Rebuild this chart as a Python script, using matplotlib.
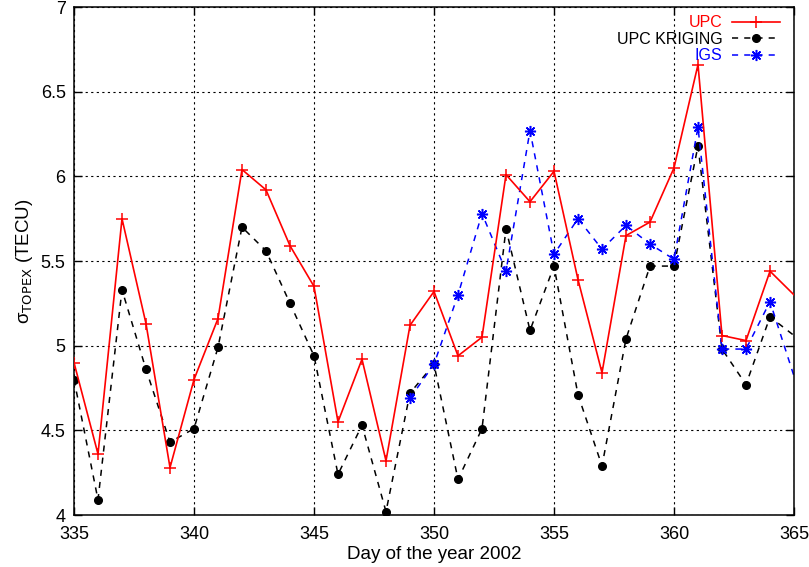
import matplotlib
matplotlib.use("Agg")
import matplotlib.pyplot as plt

plt.rcParams['font.family'] = ['Liberation Sans', 'DejaVu Sans']

days = list(range(335, 366))
upc = [4.90, 4.36, 5.75, 5.13, 4.28, 4.80, 5.16, 6.04, 5.92, 5.59, 5.35, 4.55,
       4.92, 4.32, 5.12, 5.32, 4.94, 5.05, 6.01, 5.85, 6.03, 5.39, 4.84, 5.65,
       5.73, 6.05, 6.66, 5.06, 5.03, 5.44, 5.30]
kriging = [4.80, 4.09, 5.33, 4.86, 4.43, 4.51, 4.99, 5.70, 5.56, 5.25, 4.94, 4.24,
           4.53, 4.02, 4.72, 4.89, 4.21, 4.51, 5.69, 5.09, 5.47, 4.71, 4.29, 5.04,
           5.47, 5.47, 6.18, 4.98, 4.77, 5.17, 5.06]
igs_days = list(range(349, 366))
igs = [4.69, 4.89, 5.30, 5.78, 5.44, 6.27, 5.54, 5.75, 5.57, 5.71, 5.60, 5.51,
       6.29, 4.98, 4.98, 5.26, 4.82]

xticks = [335, 340, 345, 350, 355, 360, 365]
yticks = [4, 4.5, 5, 5.5, 6, 6.5, 7]
ytick_labels = ['4', '4.5', '5', '5.5', '6', '6.5', '7']

fig = plt.figure(figsize=(8.09, 5.67), dpi=100)
ax = fig.add_axes([74/809, 52/567, 720/809, 508/567])

ax.plot(days, upc, color='#ff0000', lw=1.2, marker='+', ms=8, mew=1.1,
        markevery=list(range(len(days) - 1)), label='UPC', zorder=3)
ax.plot(days, kriging, color='black', lw=1.1, dashes=(4, 4), marker='o', ms=5.5,
        markevery=list(range(len(days) - 1)), label='UPC KRIGING', zorder=2)
ax.plot(igs_days, igs, color='#0000ff', lw=1.1, dashes=(4, 4), marker=(8, 2, 0),
        ms=8, mew=1.1, markevery=list(range(len(igs_days) - 1)), label='IGS', zorder=2)

ax.set_xlim(335, 365)
ax.set_ylim(4, 7)
ax.set_xticks(xticks)
ax.set_yticks(yticks)
ax.set_yticklabels(ytick_labels)
ax.tick_params(direction='in', top=True, right=True, length=6, width=1,
               labelsize=13)
ax.tick_params(axis='x', pad=8)
ax.tick_params(axis='y', pad=6)
ax.grid(True, color='black', lw=0.8, linestyle=(0, (2, 3)))
for s in ax.spines.values():
    s.set_linewidth(1.1)

ax.set_xlabel('Day of the year 2002', fontsize=13.5, labelpad=2)
ax.set_ylabel('σ$_{\\mathrm{TOPEX}}$ (TECU)', fontsize=13.5, labelpad=4)

leg = ax.legend(loc='upper right', bbox_to_anchor=(1 - 3/720, 1 + 3/508),
                frameon=False, markerfirst=False,
                labelcolor='linecolor', fontsize=11.5, handlelength=3.0,
                handletextpad=0.6, labelspacing=0.1, borderaxespad=0.3)
leg.set_zorder(5)

fig.savefig('out.png', dpi=100)
